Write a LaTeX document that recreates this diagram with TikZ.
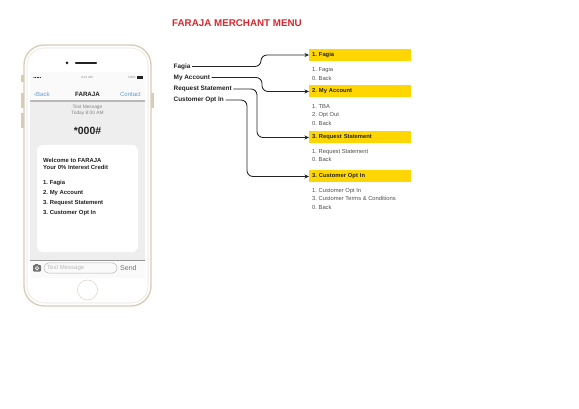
\documentclass[tikz,border=0pt]{standalone}
\usepackage{fontspec}
\setmainfont{Liberation Sans}
\usetikzlibrary{arrows.meta,positioning}
\definecolor{rojo}{HTML}{D7282F}
\definecolor{amarillo}{HTML}{FFD600}
\definecolor{tinta}{HTML}{222222}
\definecolor{gris}{HTML}{505050}
\definecolor{grisclaro}{HTML}{EEEEEE}
\definecolor{grismedio}{HTML}{B8B8B8}
\definecolor{azulios}{HTML}{5C9BD6}
\definecolor{marco}{HTML}{D8CCB6}
\definecolor{marcoclaro}{HTML}{E9E5DE}
\tikzset{
  titulo/.style={anchor=west,text=rojo,font=\fontsize{9.8}{11}\selectfont\bfseries,inner sep=0pt},
  opcion/.style={anchor=west,text=tinta,font=\fontsize{6.4}{7}\selectfont\bfseries,inner sep=1.5pt},
  menu/.style={anchor=west,fill=amarillo,minimum width=102pt,minimum height=12pt,text width=96pt,
    inner sep=3pt,text=tinta,font=\fontsize{5.8}{7}\selectfont\bfseries},
  items/.style={anchor=north west,align=left,inner sep=0pt,text=gris,font=\fontsize{5.8}{8.7}\selectfont},
  flecha/.style={-{Stealth[length=4.5pt,width=4pt]},line width=0.85pt,tinta,rounded corners=6pt},
  sms/.style={anchor=west,inner sep=0pt,text=tinta,font=\fontsize{5.9}{7}\selectfont\bfseries},
  tenue/.style={inner sep=0pt,text=gris!70,font=\fontsize{4.8}{5.8}\selectfont,align=center},
}

\begin{document}
\frenchspacing
\begin{tikzpicture}[x=1pt,y=-1pt]
  \useasboundingbox[fill=white] (0,0) rectangle (579,409);

  % telefono
  \fill[marco] (21,75) rectangle (24,82);
  \fill[marco] (21,93) rectangle (24,108);
  \fill[marco] (21,113) rectangle (24,128);
  \fill[marco] (151,93) rectangle (153.5,108);
  \draw[marco,line width=1.3pt,fill=white,rounded corners=20pt] (24,45) rectangle (151,306);
  \draw[marcoclaro,line width=0.6pt,rounded corners=17pt] (27,48) rectangle (148,303);
  \fill[tinta] (67,63) circle (1.5);
  \draw[tinta,line width=2.4pt,line cap=round] (76,63) -- (96,63);
  \fill[grisclaro] (30,72) rectangle (145,260);
  \fill[gray!4] (30,260) rectangle (145,278);
  \fill[white!96!gray] (30,72) rectangle (145,101);

  % barra de estado
  \foreach \i in {0,...,4}
    \fill[tinta] (34+\i*1.6,77.5) circle (0.6);
  \node[tenue,font=\fontsize{3}{3}\selectfont] (hora) at (87,77.5) {9:41 AM};
  \node[tenue,font=\fontsize{3}{3}\selectfont,anchor=east] (bateria) at (136,77.5) {100\%};
  \fill[tinta] (137,76.5) rectangle (143,78.6);

  % navegacion
  \node[anchor=west,inner sep=0pt,text=azulios,font=\fontsize{6}{7}\selectfont] (atras) at (34,94) {‹Back};
  \node[inner sep=0pt,text=tinta,font=\fontsize{6.2}{7}\selectfont\bfseries] (nombre) at (87.5,94) {FARAJA};
  \node[anchor=east,inner sep=0pt,text=azulios,font=\fontsize{6}{7}\selectfont] (contacto) at (141,94) {Contact};
  \draw[grismedio,line width=1.6pt] (30,101) -- (145,101);

  \node[tenue] (fecha) at (87.5,110.5) {Text Message\\Today 8:00 AM};
  \node[inner sep=0pt,text=tinta,font=\fontsize{10.5}{12}\selectfont\bfseries] (codigo) at (87.5,131) {*000\#};

  % mensaje
  \fill[white,rounded corners=6pt] (37,145) rectangle (138,252);
  \node[sms] (bienvenida) at (43,160) {Welcome to FARAJA};
  \node[sms] (credito) at (43,167) {Your 0\% Interest Credit};
  \node[sms] (s1) at (43,183) {1. Fagia};
  \node[sms] (s2) at (43,193) {2. My Account};
  \node[sms] (s3) at (43,203) {3. Request Statement};
  \node[sms] (s4) at (43,213) {3. Customer Opt In};

  % entrada de texto
  \draw[gris!60,line width=0.6pt] (30,260) -- (145,260);
  \fill[gris!80,rounded corners=0.8pt] (33,265) rectangle (41,271.5);
  \fill[gris!80] (35,264) rectangle (38,265);
  \draw[white,line width=0.7pt] (37,268.2) circle (1.7);
  \draw[grismedio,line width=0.5pt,rounded corners=4.5pt] (44,263) rectangle (117,273);
  \node[anchor=west,inner sep=0pt,text=grismedio,font=\fontsize{6}{7}\selectfont] (campo) at (47,268) {Text Message};
  \node[anchor=west,inner sep=0pt,text=gris!80,font=\fontsize{7}{8}\selectfont] (enviar) at (120,268) {Send};
  \draw[marco!80,line width=0.6pt] (87.5,290) circle (10);

  % menu
  \node[titulo] (tit) at (172,23) {FARAJA MERCHANT MENU};

  \node[opcion] (fagia) at (172,66.5) {Fagia};
  \node[opcion] (cuenta) at (172,77.5) {My Account};
  \node[opcion] (estado) at (172,89) {Request Statement};
  \node[opcion] (optin) at (172,100) {Customer Opt In};

  \node[menu] (m1) at (309,55) {1. Fagia};
  \node[menu] (m2) at (309,91.5) {2. My Account};
  \node[menu] (m3) at (309,137.5) {3. Request Statement};
  \node[menu] (m4) at (309,176.5) {3. Customer Opt In};

  \node[items] (i1) at (312,67) {1. Fagia\\0. Back};
  \node[items] (i2) at (312,104) {1. TBA\\2. Opt Out\\0. Back};
  \node[items] (i3) at (312,149) {1. Request Statement\\0. Back};
  \node[items] (i4) at (312,188) {1. Customer Opt In\\3. Customer Terms \& Conditions\\0. Back};

  \coordinate (v1) at (261,0);
  \coordinate (v2) at (262,0);
  \coordinate (v3) at (257,0);
  \coordinate (v4) at (247,0);
  \draw[flecha] (fagia.east) -- (fagia.east -| v1) |- (m1.west);
  \draw[flecha] (cuenta.east) -- (cuenta.east -| v2) |- (m2.west);
  \draw[flecha] (estado.east) -- (estado.east -| v3) |- (m3.west);
  \draw[flecha] (optin.east) -- (optin.east -| v4) |- (m4.west);
\end{tikzpicture}
\end{document}
